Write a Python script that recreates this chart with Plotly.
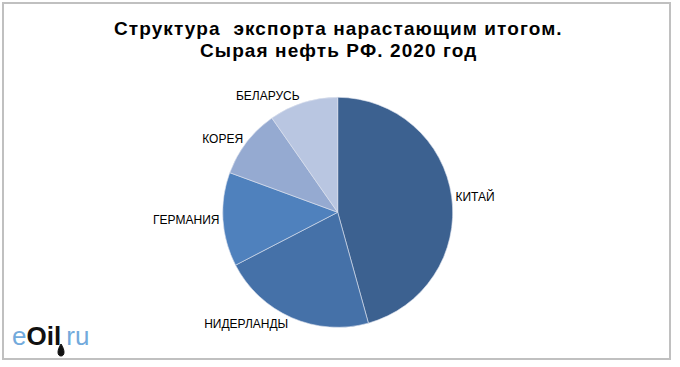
import plotly.graph_objects as go

countries = ["КИТАЙ", "НИДЕРЛАНДЫ", "ГЕРМАНИЯ", "КОРЕЯ", "БЕЛАРУСЬ"]
shares = [45.7, 21.7, 13.2, 9.7, 9.7]
colors = ["#3C6190", "#4571A8", "#4F81BD", "#95AAD1", "#B9C6E1"]

W, H = 680, 367
cx, cy, r = 337.7, 212.3, 115
FONT = "Liberation Sans, Arial, sans-serif"

fig = go.Figure(go.Pie(
    labels=countries,
    values=shares,
    sort=False,
    direction="clockwise",
    rotation=0,
    marker=dict(colors=colors, line=dict(color="#DDE3EE", width=0.6)),
    textinfo="label",
    textposition="outside",
    textfont=dict(family=FONT, size=12, color="#000000"),
    showlegend=False,
    hoverinfo="label+percent",
    domain=dict(x=[(cx - r) / W, (cx + r) / W],
                y=[(H - cy - r) / H, (H - cy + r) / H]),
))

title_style = "letter-spacing:1.1px"
fig.update_layout(
    width=W, height=H,
    margin=dict(l=0, r=0, t=0, b=0),
    paper_bgcolor="white",
    plot_bgcolor="white",
    annotations=[
        dict(text=f"<span style='{title_style}'><b>Структура  экспорта нарастающим итогом.</b></span>",
             x=338 / W, y=1 - 28 / H, xref="paper", yref="paper",
             xanchor="center", yanchor="middle", showarrow=False,
             font=dict(family=FONT, size=19, color="#000000")),
        dict(text=f"<span style='{title_style}'><b>Сырая нефть РФ. 2020 год</b></span>",
             x=338 / W, y=1 - 51 / H, xref="paper", yref="paper",
             xanchor="center", yanchor="middle", showarrow=False,
             font=dict(family=FONT, size=19, color="#000000")),
        dict(text="<span style='color:#72AADC'>e</span><b><span style='color:#111111'>Oil</span></b><span style='color:#72AADC'>&#8201;ru</span>",
             x=10 / W, y=1 - 336 / H, xref="paper", yref="paper",
             xanchor="left", yanchor="middle", showarrow=False,
             font=dict(family=FONT, size=26)),
    ],
    shapes=[
        dict(type="rect", xref="paper", yref="paper",
             x0=3 / W, x1=670 / W, y0=1 - 359 / H, y1=1 - 3 / H,
             line=dict(color="#C0C0C0", width=2), fillcolor="rgba(0,0,0,0)"),
        dict(type="path", xref="paper", yref="paper",
             path=(f"M {61/W} {1-344/H} "
                   f"C {57/W} {1-350/H}, {57/W} {1-356/H}, {61/W} {1-356/H} "
                   f"C {65/W} {1-356/H}, {65/W} {1-350/H}, {61/W} {1-344/H} Z"),
             fillcolor="#111111", line=dict(color="#111111", width=1)),
    ],
)

fig.write_html("out.html", config={"displayModeBar": False},
               post_script="document.body.style.margin='0';")
